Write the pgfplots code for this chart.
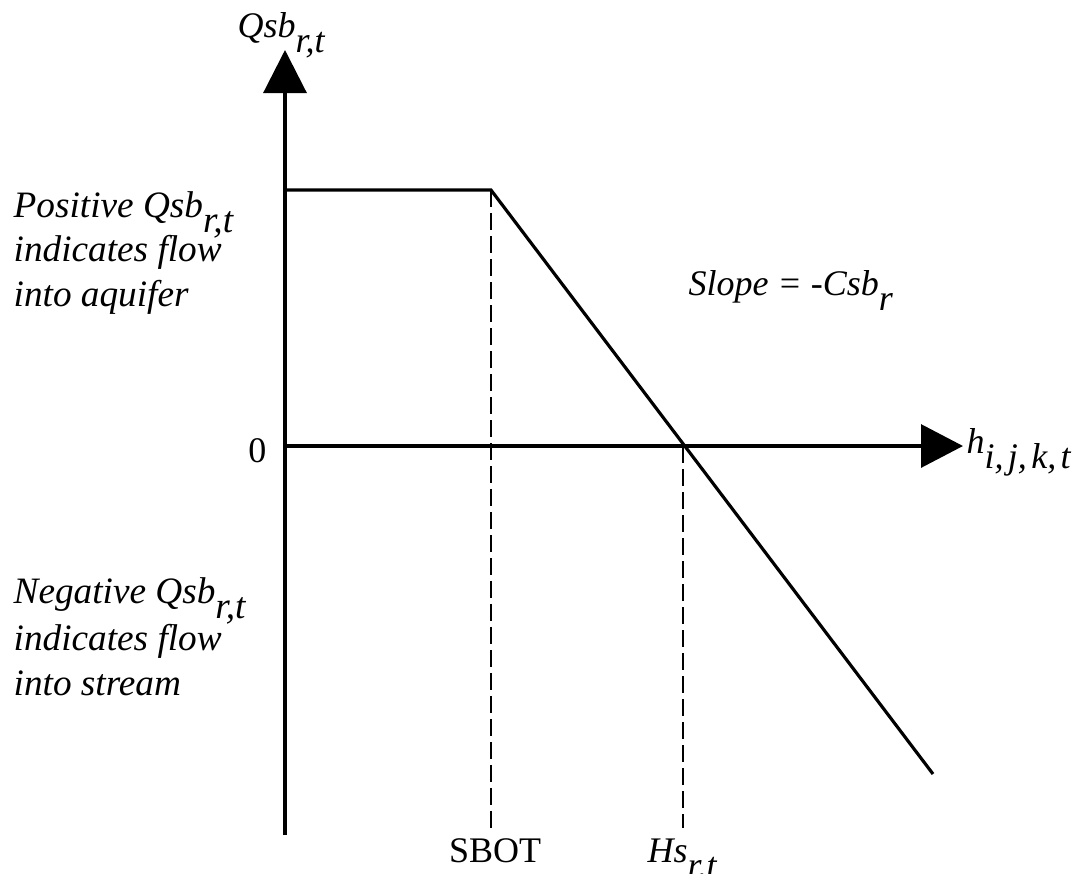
\documentclass[border=0pt]{standalone}
\usepackage{fontspec}
\setmainfont{Liberation Serif}
\usepackage{pgfplots}
\pgfplotsset{compat=1.18}
\usetikzlibrary{arrows.meta}

% subscripts are set at full size and lowered
\newcommand\sub[1]{\raisebox{-0.42em}{#1}}

\tikzset{
  lab/.style={font=\fontsize{10.24}{12.5}\selectfont\itshape, inner sep=0pt},
  side/.style={font=\fontsize{10.6}{12.5}\selectfont\itshape, inner sep=0pt, anchor=base west},
  rom/.style={font=\fontsize{10.24}{12.5}\selectfont, inner sep=0pt},
}

\begin{document}
\begin{tikzpicture}
\begin{axis}[
  scale only axis,
  width=10.73cm, height=8.73cm,
  xmin=0, xmax=1073, ymin=0, ymax=873,
  axis lines=none,
  clip=false,
]
% axes
\addplot[black, line width=0.9pt, -{Triangle[length=0.43cm,width=0.43cm]}]
  coordinates {(285,38) (285,823)};
\addplot[black, line width=0.9pt, -{Triangle[length=0.42cm,width=0.43cm]}]
  coordinates {(285,427) (963,427)};

% flow curve
\addplot[black, line width=0.9pt]
  coordinates {(285,683) (491,683) (933,99)};

% dashed guides
\addplot[black, line width=0.8pt, dash pattern=on 0.17cm off 0.06cm]
  coordinates {(491,683) (491,45)};
\addplot[black, line width=0.8pt, dash pattern=on 0.17cm off 0.06cm]
  coordinates {(683,427) (683,45)};

% labels
\node[lab, anchor=base west] at (axis cs:237,836) {Qsb\sub{r,t}};
\node[lab, anchor=base west] at (axis cs:966,420) {h\sub{i,\kern0.12em j,\kern0.12em k,\kern0.12em t}};
\node[rom, anchor=base east] at (axis cs:267,411) {0};
\node[rom, anchor=base] at (axis cs:495,11) {SBOT};
\node[lab, anchor=base west] at (axis cs:647,11) {Hs\sub{r,t}};
\node[lab, anchor=base west] at (axis cs:688,578) {Slope = -Csb\sub{r}};

\node[side] at (axis cs:13,656) {Positive Qsb\sub{r,t}};
\node[side] at (axis cs:13,612) {indicates flow};
\node[side] at (axis cs:13,567) {into aquifer};

\node[side] at (axis cs:13,270) {Negative Qsb\sub{r,t}};
\node[side] at (axis cs:13,223) {indicates flow};
\node[side] at (axis cs:13,178) {into stream};
\end{axis}
% the hidden axis does not set the bounding box, so fix it to the axis area
\pgfresetboundingbox
\path (current axis.south west) rectangle (current axis.north east);
\end{tikzpicture}
\end{document}
